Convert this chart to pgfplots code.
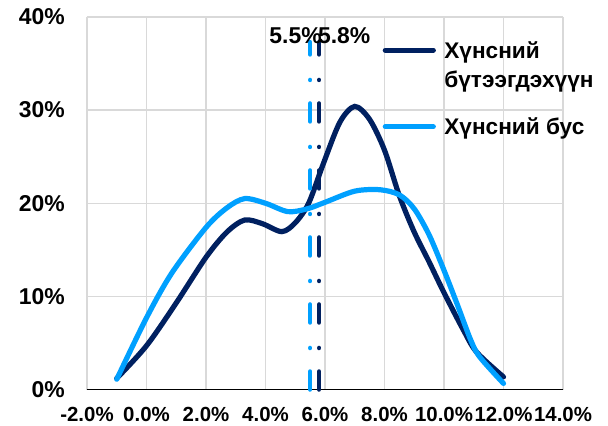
\documentclass[border=0pt]{standalone}
\usepackage{fontspec}
\setmainfont{Liberation Sans}
\usepackage{pgfplots}
\pgfplotsset{compat=1.18}
\definecolor{dk}{HTML}{002060}
\definecolor{lt}{HTML}{00A0FF}
\definecolor{gr}{HTML}{D9D9D9}
\begin{document}
\begin{tikzpicture}
\useasboundingbox (-87bp,-36.5bp) rectangle (521bp,389.5bp);
\begin{axis}[
 at={(0,0)}, anchor=south west,
 scale only axis, width=476bp, height=372.5bp,
 xmin=-2, xmax=14, ymin=0, ymax=40,
 xtick={-2,0,2,4,6,8,10,12,14}, ytick={0,10,20,30,40},
 xticklabels={-2.0\%,0.0\%,2.0\%,4.0\%,6.0\%,8.0\%,10.0\%,12.0\%,14.0\%},
 yticklabels={0\%,10\%,20\%,30\%,40\%},
 major tick length=0pt,
 grid=major, major grid style={gr, line width=1.3bp},
 axis x line*=bottom, axis y line*=left,
 x axis line style={black, line width=1.5bp, -},
 y axis line style={draw=none},
 x tick label style={font=\bfseries\fontsize{20.5}{24}\selectfont, inner sep=0pt, anchor=north, yshift=-17.5bp},
 y tick label style={font=\bfseries\fontsize{23}{27}\selectfont, inner sep=0pt, anchor=east, xshift=-22bp},
 clip=false,
 legend style={at={(axis description cs:0.6208,0.9302)}, anchor=north west, draw=none, fill=none, inner sep=0pt, row sep=0pt, column sep=8.5bp,
   font=\bfseries\fontsize{22.7}{27}\selectfont, nodes={inner sep=0pt, text depth=, text height=15bp, anchor=base west}},
 legend cell align=left,
 legend image code/.code={\draw[#1, line cap=round] (0bp,8bp) -- (48bp,8bp);},
]
\addplot[dk, line width=5.2bp, smooth, line cap=round] coordinates {
(-1,1.2) (0,4.7) (1,9.3) (2,14.2) (2.7,16.9) (3.3,18.2) (3.9,17.8) (4.55,16.95) (5.0,17.9) (5.45,20.0) (5.95,24.3) (6.5,28.7) (7.0,30.4) (7.5,29.0) (8.0,25.7) (8.5,20.8) (9.0,16.9) (9.5,13.7) (10.0,10.4) (10.65,6.4) (11.1,4.0) (12,1.35)};
\addlegendentry{Хүнсний\rule[-14bp]{0pt}{15bp}}
\addlegendimage{empty legend}
\addlegendentry{бүтээгдэхүүн\rule[-32.5bp]{0pt}{15bp}}
\addplot[lt, line width=5.2bp, smooth, line cap=round] coordinates {
(-1,1.1) (0,7.7) (0.85,12.5) (2,17.4) (2.7,19.5) (3.3,20.5) (4.0,20.0) (4.75,19.1) (5.4,19.4) (6.0,20.1) (7.0,21.3) (7.85,21.45) (8.5,20.9) (9.0,19.4) (9.5,16.6) (10.0,12.8) (10.45,9.1) (10.9,5.3) (11.2,3.5) (12,0.65)};
\addlegendentry{Хүнсний бус\rule[-14bp]{0pt}{15bp}}
\addplot[lt, line width=4.5bp, line cap=round, dash pattern=on 18bp off 23.5bp on 0.01bp off 25.5bp, forget plot] coordinates {(5.5,0) (5.5,37.3)};
\addplot[dk, line width=4.5bp, line cap=round, dash pattern=on 18bp off 23.5bp on 0.01bp off 25.5bp, forget plot] coordinates {(5.8,0) (5.8,37.3)};
\node[anchor=base east, inner sep=0pt, font=\bfseries\fontsize{23}{27}\selectfont] at (axis cs:5.896,37.18) {5.5\%};
\node[anchor=base west, inner sep=0pt, font=\bfseries\fontsize{23}{27}\selectfont] at (axis cs:5.76,37.18) {5.8\%};
\end{axis}
\end{tikzpicture}
\end{document}
